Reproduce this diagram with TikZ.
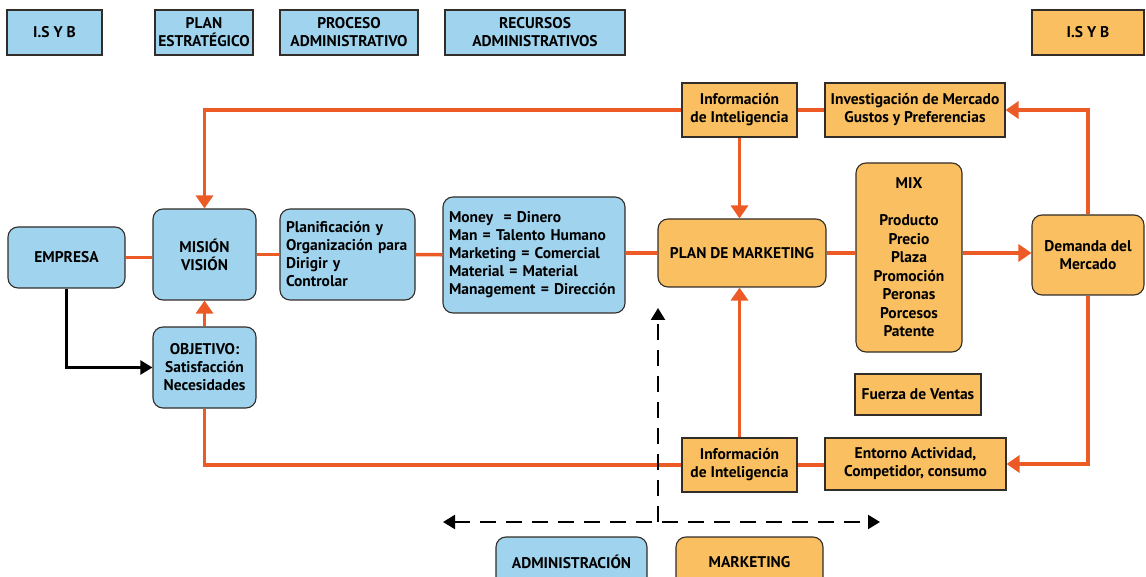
\documentclass[tikz,border=0pt]{standalone}
\usepackage{fontspec}
\setmainfont{PT Sans}
\usetikzlibrary{arrows.meta}

\definecolor{azul}{RGB}{160,212,238}
\definecolor{naranja}{RGB}{249,191,96}
\definecolor{rojizo}{RGB}{236,90,38}
\definecolor{borde}{RGB}{50,45,40}

\begin{document}
\begin{tikzpicture}[x=1pt,y=-1pt,
    caja/.style={draw=borde, line width=1.1pt, align=center, inner sep=2pt,
      font=\bfseries\fontsize{15.5}{18}\selectfont},
    cajaazul/.style={caja, fill=azul},
    cajanar/.style={caja, fill=naranja},
    redondo/.style={rounded corners=10pt},
    flujo/.style={draw=rojizo, line width=3.5pt},
    flecha/.style={flujo, -{Triangle[length=13pt,width=17pt]}},
    guia/.style={draw=black, line width=2.2pt},
    tramo/.style={guia, dash pattern=on 16pt off 10pt}]

  \useasboundingbox (0,0) rectangle (1146,577);
  \clip (0,0) rectangle (1146,577);

  % leyenda superior
  \node[cajaazul, minimum width=95pt, minimum height=45pt] (isb) at (54.5,32.5) {I.S Y B};
  \node[cajaazul, minimum width=98pt, minimum height=45pt] (estrategico) at (204,32.5) {PLAN\\ESTRATÉGICO};
  \node[cajaazul, minimum width=138pt, minimum height=45pt] (proceso) at (349,32.5) {PROCESO\\ADMINISTRATIVO};
  \node[cajaazul, minimum width=180pt, minimum height=45pt] (recursos) at (535,32.5) {RECURSOS\\ADMINISTRATIVOS};
  \node[cajanar, minimum width=112pt, minimum height=45pt] (isbmkt) at (1088,32.5) {I.S Y B};

  % bloque administrativo
  \node[cajaazul, redondo, minimum width=117pt, minimum height=61pt] (empresa) at (66.5,257.5) {EMPRESA};
  \node[cajaazul, redondo, minimum width=103pt, minimum height=91pt] (mision) at (204.5,254.5) {MISIÓN\\VISIÓN};
  \node[cajaazul, redondo, minimum width=103pt, minimum height=81pt] (objetivo) at (204.5,367.5) {OBJETIVO:\\Satisfacción\\Necesidades};
  \node[cajaazul, redondo, minimum width=135pt, minimum height=91pt, align=left, text width=123pt] (planif) at (347.5,254.5)
    {Planificación y\\Organización para\\Dirigir y\\Controlar};
  \node[cajaazul, redondo, minimum width=182pt, minimum height=116pt, align=left, text width=170pt] (money) at (534,255)
    {Money\ \ = Dinero\\Man = Talento Humano\\Marketing = Comercial\\Material = Material\\Management = Dirección};

  % bloque de marketing
  \node[cajanar, redondo, minimum width=168pt, minimum height=68pt] (plan) at (742,253) {PLAN DE MARKETING};
  \node[cajanar, redondo, minimum width=106pt, minimum height=189pt, font=\bfseries\fontsize{15.5}{18.5}\selectfont] (mix) at (909,257.5)
    {MIX\\[18.5pt]Producto\\Precio\\Plaza\\Promoción\\Peronas\\Porcesos\\Patente};
  \node[cajanar, redondo, minimum width=112pt, minimum height=80pt] (demanda) at (1088,255) {Demanda del\\Mercado};
  \node[cajanar, minimum width=126pt, minimum height=41pt] (fuerza) at (918,394.5) {Fuerza de Ventas};
  \node[cajanar, minimum width=115pt, minimum height=54pt] (infoarriba) at (739.5,110) {Información\\de Inteligencia};
  \node[cajanar, minimum width=180pt, minimum height=54pt] (investigacion) at (915,110) {Investigación de Mercado\\Gustos y Preferencias};
  \node[cajanar, minimum width=115pt, minimum height=54pt] (infoabajo) at (739.5,465) {Información\\de Inteligencia};
  \node[cajanar, minimum width=181pt, minimum height=52pt] (entorno) at (915.5,464) {Entorno Actividad,\\Competidor, consumo};

  % leyenda inferior
  \node[cajaazul, redondo, minimum width=151pt, minimum height=50pt] (admin) at (571.5,562) {ADMINISTRACIÓN};
  \node[cajanar, redondo, minimum width=147pt, minimum height=50pt] (mkt) at (749.5,562) {MARKETING};

  % flujo principal
  \draw[flujo] (empresa.east) -- (empresa.east -| mision.west);
  \draw[flujo] (mision) -- (planif);
  \draw[flujo] (planif) -- (money);
  \draw[flujo] (money.east |- plan) -- (plan);
  \draw[flujo] (plan) -- (mix.west |- plan);
  \draw[flecha] (mix.east |- plan) -- (demanda.west |- plan);

  % lazos de informacion
  \draw[flecha] (infoarriba.west) -| (mision.north);
  \draw[flujo] (investigacion) -- (infoarriba);
  \draw[flecha] (demanda.north) |- (investigacion.east);
  \draw[flecha] (infoarriba.south) -- (infoarriba.south |- plan.north);
  \draw[flecha] (demanda.south) |- (entorno.east);
  \draw[flujo] (entorno.west |- infoabajo) -- (infoabajo);
  \draw[flecha] (infoabajo.north) -- (infoabajo.north |- plan.south);
  \draw[flujo] (infoabajo.west) -| (objetivo.south);
  \draw[flecha] (objetivo) -- (mision);

  \draw[guia, -{Triangle[length=12pt,width=14pt]}] (empresa.south) |- (objetivo.west);

  % ejes punteados
  \coordinate (cruce) at (658,522);
  \coordinate (tope) at (658,308);
  \coordinate (izq) at (443,522);
  \coordinate (der) at (880,522);
  \draw[tramo, -{Triangle[length=12pt,width=14pt]}] (cruce) -- (tope);
  \draw[tramo, {Triangle[length=12pt,width=14pt]}-{Triangle[length=12pt,width=14pt]}] (izq) -- (der);
\end{tikzpicture}
\end{document}
